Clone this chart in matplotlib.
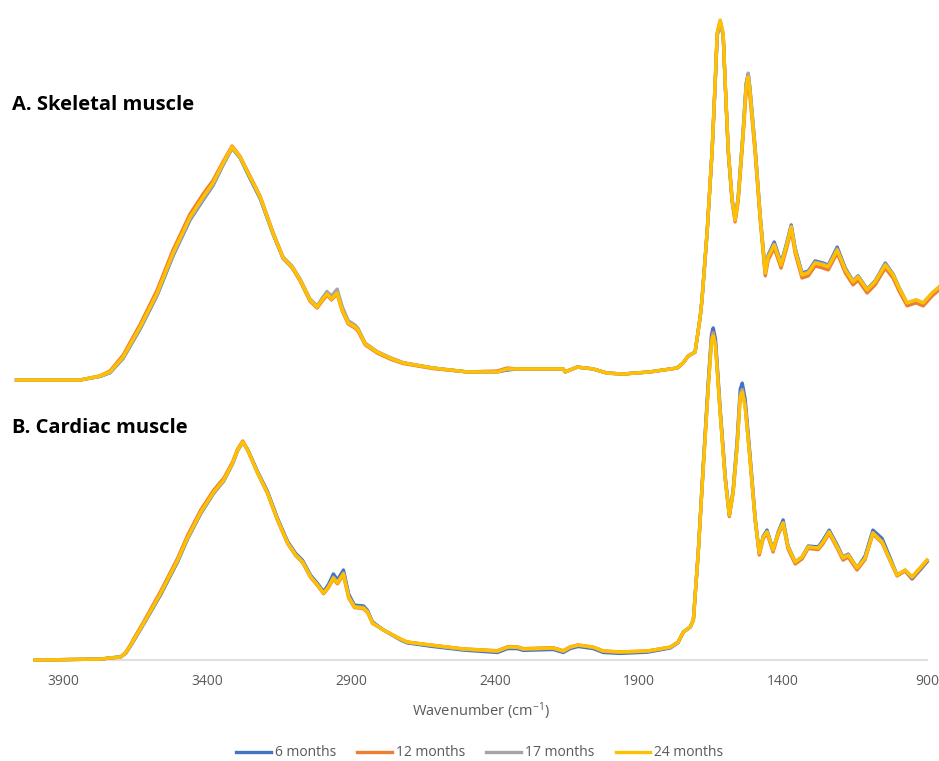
import matplotlib
matplotlib.use("Agg")
import matplotlib.pyplot as plt

plt.rcParams['font.family'] = ['Open Sans', 'DejaVu Sans']
plt.rcParams['mathtext.default'] = 'regular'

# ---- data (absorbance, arbitrary units) ----
series_names = ["6 months", "12 months", "17 months", "24 months"]
series_colors = ["#4472C4", "#ED7D31", "#A5A5A5", "#FFC000"]
tick_values = [3900, 3400, 2900, 2400, 1900, 1400, 900]

# A. Skeletal muscle
wn_a = [4000, 3787, 3720, 3687, 3643, 3586, 3529, 3476, 3419, 3375,
        3342, 3308, 3278, 3251, 3218, 3184, 3141, 3107, 3077, 3050,
        3017, 2993, 2976, 2960, 2945, 2926, 2909, 2889, 2866, 2856,
        2832, 2792, 2749, 2705, 2605, 2491, 2390, 2357, 2323, 2169,
        2162, 2122, 2069, 2022, 1968, 1878, 1787, 1767, 1750, 1727,
        1710, 1704, 1687, 1670, 1660, 1653, 1643, 1633, 1626, 1616,
        1603, 1593, 1583, 1566, 1556, 1549, 1543, 1526, 1509, 1492,
        1482, 1462, 1439, 1422, 1405, 1392, 1369, 1348, 1325, 1298,
        1281, 1251, 1224, 1198, 1181, 1151, 1124, 1090, 1064, 1044,
        1017, 987, 963, 933, 910, 900]

a_6m = [0, 0, 0.012, 0.024, 0.072, 0.170, 0.282, 0.413, 0.533, 0.600,
        0.648, 0.717, 0.773, 0.740, 0.672, 0.605, 0.487, 0.405, 0.375, 0.333,
        0.267, 0.243, 0.270, 0.290, 0.273, 0.293, 0.237, 0.190, 0.180, 0.167,
        0.120, 0.093, 0.073, 0.057, 0.040, 0.027, 0.027, 0.033, 0.037, 0.037,
        0.027, 0.043, 0.037, 0.023, 0.020, 0.027, 0.040, 0.057, 0.080, 0.093,
        0.210, 0.267, 0.490, 0.763, 0.983, 1.150, 1.193, 1.150, 0.983, 0.763,
        0.600, 0.537, 0.603, 0.830, 0.987, 1.020, 0.967, 0.773, 0.547, 0.360,
        0.417, 0.460, 0.390, 0.450, 0.517, 0.440, 0.357, 0.363, 0.397, 0.390,
        0.383, 0.443, 0.373, 0.330, 0.347, 0.303, 0.330, 0.390, 0.353, 0.307,
        0.253, 0.263, 0.250, 0.287, 0.307, 0.317]

a_12m = [0, 0, 0.014, 0.030, 0.083, 0.185, 0.300, 0.433, 0.553, 0.620,
         0.665, 0.728, 0.780, 0.745, 0.680, 0.613, 0.493, 0.407, 0.375, 0.330,
         0.263, 0.240, 0.263, 0.283, 0.267, 0.287, 0.230, 0.187, 0.173, 0.163,
         0.117, 0.090, 0.070, 0.055, 0.038, 0.027, 0.030, 0.040, 0.037, 0.037,
         0.027, 0.043, 0.037, 0.023, 0.020, 0.027, 0.040, 0.057, 0.080, 0.093,
         0.210, 0.267, 0.490, 0.767, 0.990, 1.157, 1.197, 1.150, 0.983, 0.760,
         0.593, 0.527, 0.593, 0.813, 0.963, 0.997, 0.943, 0.757, 0.533, 0.347,
         0.400, 0.440, 0.373, 0.433, 0.500, 0.423, 0.340, 0.347, 0.380, 0.373,
         0.367, 0.423, 0.357, 0.317, 0.333, 0.290, 0.317, 0.373, 0.340, 0.297,
         0.247, 0.257, 0.247, 0.280, 0.300, 0.310]

a_17m = [0, 0, 0.012, 0.025, 0.073, 0.172, 0.284, 0.416, 0.536, 0.603,
         0.650, 0.718, 0.772, 0.743, 0.677, 0.610, 0.490, 0.410, 0.380, 0.337,
         0.270, 0.247, 0.273, 0.295, 0.280, 0.303, 0.245, 0.198, 0.183, 0.172,
         0.123, 0.095, 0.075, 0.058, 0.040, 0.027, 0.027, 0.035, 0.037, 0.037,
         0.027, 0.043, 0.037, 0.023, 0.020, 0.027, 0.040, 0.057, 0.080, 0.093,
         0.210, 0.267, 0.487, 0.760, 0.980, 1.147, 1.190, 1.150, 0.987, 0.767,
         0.603, 0.537, 0.607, 0.833, 0.990, 1.023, 0.970, 0.777, 0.550, 0.357,
         0.413, 0.453, 0.387, 0.447, 0.513, 0.437, 0.353, 0.360, 0.393, 0.387,
         0.380, 0.437, 0.370, 0.330, 0.347, 0.303, 0.330, 0.387, 0.353, 0.310,
         0.257, 0.267, 0.257, 0.290, 0.310, 0.320]

a_24m = [0, 0, 0.013, 0.027, 0.077, 0.177, 0.290, 0.423, 0.543, 0.610,
         0.657, 0.723, 0.777, 0.743, 0.677, 0.610, 0.490, 0.407, 0.377, 0.333,
         0.267, 0.243, 0.267, 0.287, 0.270, 0.290, 0.233, 0.190, 0.177, 0.167,
         0.120, 0.093, 0.073, 0.057, 0.040, 0.027, 0.027, 0.037, 0.037, 0.037,
         0.027, 0.043, 0.037, 0.023, 0.020, 0.027, 0.040, 0.057, 0.080, 0.093,
         0.210, 0.267, 0.490, 0.767, 0.990, 1.157, 1.200, 1.157, 0.990, 0.767,
         0.600, 0.533, 0.600, 0.823, 0.977, 1.010, 0.957, 0.767, 0.543, 0.357,
         0.410, 0.450, 0.383, 0.443, 0.510, 0.433, 0.350, 0.357, 0.390, 0.383,
         0.377, 0.433, 0.367, 0.327, 0.343, 0.300, 0.327, 0.383, 0.350, 0.307,
         0.257, 0.267, 0.257, 0.290, 0.310, 0.320]

# B. Cardiac muscle
wn_b = [4000, 3772, 3737, 3702, 3685, 3667, 3657, 3622, 3563, 3504,
        3469, 3424, 3379, 3344, 3313, 3296, 3278, 3261, 3226, 3192,
        3157, 3122, 3094, 3070, 3042, 3018, 2997, 2980, 2963, 2949,
        2928, 2910, 2890, 2858, 2844, 2827, 2789, 2730, 2706, 2626,
        2511, 2393, 2358, 2324, 2303, 2199, 2164, 2140, 2112, 2060,
        2025, 1966, 1872, 1792, 1765, 1747, 1723, 1712, 1695, 1678,
        1660, 1649, 1643, 1635, 1619, 1601, 1587, 1574, 1560, 1549,
        1542, 1532, 1515, 1497, 1483, 1469, 1456, 1435, 1417, 1400,
        1383, 1358, 1334, 1313, 1278, 1261, 1240, 1212, 1192, 1174,
        1143, 1115, 1088, 1056, 1028, 1004, 976, 952, 924, 900]

b_6m = [0, 0.003, 0.007, 0.010, 0.022, 0.048, 0.064, 0.120, 0.218, 0.328,
        0.405, 0.488, 0.556, 0.597, 0.655, 0.698, 0.727, 0.702, 0.627, 0.562,
        0.472, 0.395, 0.355, 0.332, 0.282, 0.255, 0.228, 0.252, 0.287, 0.267,
        0.300, 0.220, 0.183, 0.180, 0.165, 0.127, 0.100, 0.067, 0.057, 0.046,
        0.033, 0.025, 0.038, 0.038, 0.032, 0.035, 0.025, 0.038, 0.045, 0.038,
        0.025, 0.022, 0.026, 0.040, 0.058, 0.093, 0.110, 0.133, 0.360, 0.645,
        0.930, 1.085, 1.107, 1.070, 0.840, 0.610, 0.483, 0.565, 0.730, 0.903,
        0.923, 0.870, 0.683, 0.473, 0.357, 0.413, 0.433, 0.367, 0.427, 0.467,
        0.380, 0.327, 0.343, 0.380, 0.377, 0.400, 0.433, 0.383, 0.343, 0.353,
        0.307, 0.347, 0.433, 0.405, 0.340, 0.283, 0.297, 0.270, 0.300, 0.327]

b_12m = [0, 0.003, 0.007, 0.011, 0.025, 0.053, 0.071, 0.128, 0.230, 0.340,
         0.417, 0.500, 0.566, 0.606, 0.661, 0.703, 0.730, 0.700, 0.622, 0.555,
         0.465, 0.388, 0.348, 0.325, 0.275, 0.248, 0.221, 0.241, 0.270, 0.254,
         0.283, 0.207, 0.175, 0.171, 0.158, 0.122, 0.100, 0.070, 0.060, 0.050,
         0.037, 0.031, 0.044, 0.044, 0.038, 0.041, 0.031, 0.044, 0.050, 0.043,
         0.030, 0.027, 0.030, 0.043, 0.060, 0.093, 0.110, 0.133, 0.357, 0.636,
         0.915, 1.070, 1.092, 1.055, 0.830, 0.600, 0.478, 0.555, 0.712, 0.882,
         0.900, 0.848, 0.668, 0.462, 0.350, 0.405, 0.422, 0.360, 0.418, 0.452,
         0.370, 0.320, 0.337, 0.372, 0.368, 0.388, 0.422, 0.372, 0.333, 0.343,
         0.300, 0.335, 0.420, 0.390, 0.330, 0.280, 0.297, 0.273, 0.303, 0.330]

b_17m = [0, 0.003, 0.007, 0.010, 0.023, 0.050, 0.067, 0.123, 0.223, 0.333,
         0.407, 0.490, 0.558, 0.598, 0.655, 0.698, 0.725, 0.699, 0.623, 0.557,
         0.467, 0.390, 0.350, 0.327, 0.277, 0.250, 0.223, 0.245, 0.276, 0.259,
         0.290, 0.212, 0.178, 0.175, 0.161, 0.124, 0.100, 0.069, 0.059, 0.049,
         0.036, 0.029, 0.042, 0.042, 0.036, 0.039, 0.029, 0.042, 0.049, 0.042,
         0.029, 0.026, 0.029, 0.042, 0.059, 0.093, 0.110, 0.133, 0.357, 0.636,
         0.915, 1.065, 1.087, 1.050, 0.828, 0.603, 0.483, 0.560, 0.715, 0.885,
         0.902, 0.850, 0.670, 0.468, 0.357, 0.410, 0.428, 0.367, 0.423, 0.458,
         0.377, 0.327, 0.343, 0.377, 0.373, 0.395, 0.428, 0.377, 0.340, 0.350,
         0.307, 0.340, 0.425, 0.395, 0.333, 0.283, 0.300, 0.277, 0.307, 0.333]

b_24m = [0, 0.003, 0.007, 0.010, 0.023, 0.050, 0.067, 0.123, 0.223, 0.333,
         0.410, 0.493, 0.560, 0.600, 0.657, 0.700, 0.727, 0.700, 0.623, 0.557,
         0.467, 0.390, 0.350, 0.327, 0.277, 0.250, 0.223, 0.243, 0.273, 0.257,
         0.287, 0.210, 0.177, 0.173, 0.160, 0.123, 0.100, 0.070, 0.060, 0.050,
         0.037, 0.030, 0.043, 0.043, 0.037, 0.040, 0.030, 0.043, 0.050, 0.043,
         0.030, 0.027, 0.030, 0.043, 0.060, 0.093, 0.110, 0.133, 0.357, 0.633,
         0.910, 1.060, 1.080, 1.045, 0.823, 0.600, 0.483, 0.557, 0.710, 0.877,
         0.893, 0.843, 0.667, 0.467, 0.357, 0.410, 0.427, 0.367, 0.423, 0.457,
         0.377, 0.327, 0.343, 0.377, 0.373, 0.393, 0.427, 0.377, 0.340, 0.350,
         0.307, 0.340, 0.423, 0.393, 0.333, 0.283, 0.300, 0.277, 0.307, 0.333]

skeletal = [a_6m, a_12m, a_17m, a_24m]
cardiac = [b_6m, b_12m, b_17m, b_24m]

# ---- figure ----
W, H = 939, 761
fig = plt.figure(figsize=(W / 100, H / 100), dpi=100)

# bottom panel with the wavenumber axis
ax_b = fig.add_axes([35 / W, (H - 660) / H, 892 / W, 360 / H])
ax_b.set_xlim(4000, 900)
ax_b.set_ylim(0, 360 / 300)
ax_b.patch.set_visible(False)

# top panel (no axis of its own, a bit wider than the bottom one)
ax_a = fig.add_axes([16.5 / W, (H - 380) / H, 925.5 / W, 380 / H])
ax_a.set_xlim(4000, 900)
ax_a.set_ylim(0, 380 / 300)
ax_a.axis('off')
ax_a.patch.set_visible(False)

for name, col, ya, yb in zip(series_names, series_colors, skeletal, cardiac):
    ax_a.plot(wn_a, ya, color=col, lw=2.4, solid_joinstyle='round', clip_on=False)
    ax_b.plot(wn_b, yb, color=col, lw=2.4, solid_joinstyle='round', clip_on=False, label=name)

for s in ['top', 'left', 'right']:
    ax_b.spines[s].set_visible(False)
ax_b.spines['bottom'].set_color('#D9D9D9')
ax_b.spines['bottom'].set_linewidth(1.2)
ax_b.spines['bottom'].set_zorder(0)
ax_b.set_yticks([])
ax_b.set_xticks(tick_values)
ax_b.set_xticklabels([str(t) for t in tick_values])
ax_b.tick_params(axis='x', length=0, pad=10, labelsize=10, labelcolor='#595959')
ax_b.set_xlabel('Wavenumber (cm$^{-1}$)', fontsize=10.5, color='#595959', labelpad=8)

fig.text(12 / W, 1 - 105 / H, 'A. Skeletal muscle', fontsize=14.5, fontweight='bold',
         va='center', ha='left')
fig.text(12 / W, 1 - 428 / H, 'B. Cardiac muscle', fontsize=14.5, fontweight='bold',
         va='center', ha='left')

fig.legend(loc='center', bbox_to_anchor=(480 / W, 1 - 753 / H), ncol=4, frameon=False,
           fontsize=10, handlelength=2.5, handletextpad=0.3, columnspacing=1.5,
           labelcolor='#595959')

fig.savefig('out.png', dpi=100)
